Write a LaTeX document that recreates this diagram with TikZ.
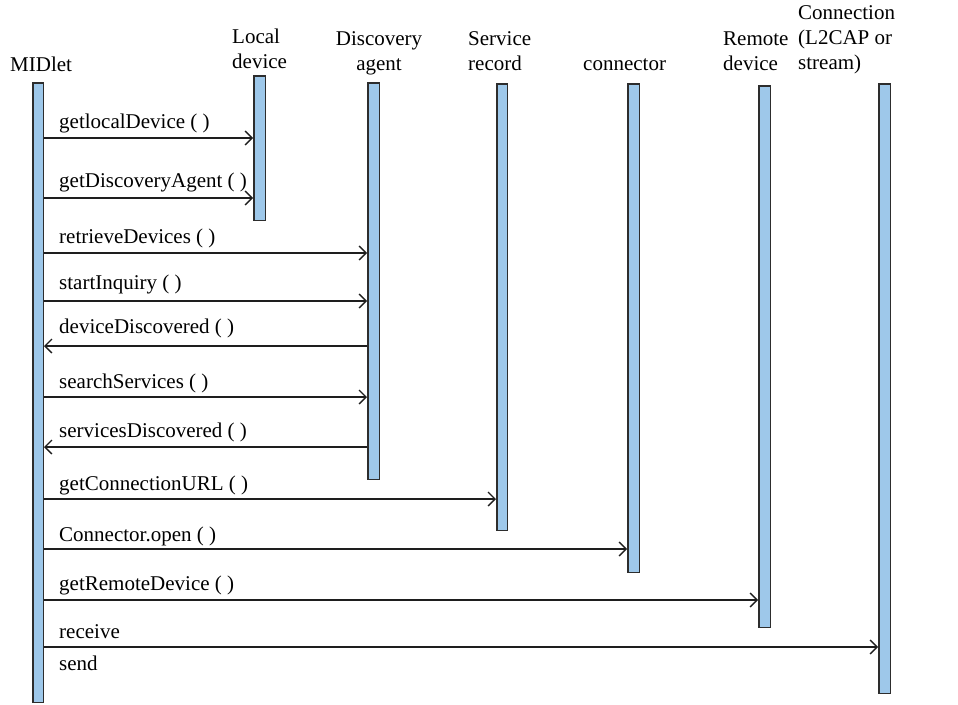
\documentclass[tikz,border=0pt]{standalone}
\usepackage{fontspec}
\setmainfont{Liberation Serif}
\usetikzlibrary{arrows.meta}
\definecolor{barfill}{RGB}{158,200,234}
\definecolor{barline}{RGB}{45,45,45}
\definecolor{msgline}{RGB}{30,30,30}
\begin{document}
\begin{tikzpicture}[x=1pt,y=-1pt,
  bar/.style={draw=barline, fill=barfill, line width=1.5pt, inner sep=0pt, rectangle},
  msg/.style={draw=msgline, line width=1.3pt, -{Straight Barb[length=7pt,width=14pt,line width=1.3pt]}},
  lbl/.style={anchor=base west, inner sep=0pt, font=\fontsize{21}{25}\selectfont},
  head/.style={inner sep=0pt, font=\fontsize{21}{25}\selectfont}]
\useasboundingbox (0,0) rectangle (958,704);

% lifelines (activation bars)
\node[bar, minimum width=10.5pt, minimum height=619.5pt] (midlet) at (38,392.5) {};
\node[bar, minimum width=11.5pt, minimum height=144.5pt] (local) at (259.5,148) {};
\node[bar, minimum width=11.5pt, minimum height=396.5pt] (disc) at (373.5,281) {};
\node[bar, minimum width=10.5pt, minimum height=446.5pt] (serv) at (502,307) {};
\node[bar, minimum width=11.5pt, minimum height=488.5pt] (conn) at (633.5,328) {};
\node[bar, minimum width=11.5pt, minimum height=541.5pt] (remote) at (764.5,356.5) {};
\node[bar, minimum width=11.5pt, minimum height=609.5pt] (cnx) at (884.5,388.5) {};

% headers (base anchor = baseline of the last line)
\node[head, anchor=base west] (hmid) at (10,71) {MIDlet};
\node[head, anchor=base west, align=left] (hloc) at (232,68) {Local\\device};
\node[head, anchor=base, align=center] (hdis) at (379,70) {Discovery\\agent};
\node[head, anchor=base west, align=left] (hser) at (468,70) {Service\\record};
\node[head, anchor=base west] (hcon) at (583,70) {connector};
\node[head, anchor=base west, align=left] (hrem) at (723,70) {Remote\\device};
\node[head, anchor=base west, align=left] (hcnx) at (798,69) {Connection\\(L2CAP or\\stream)};

% message levels
\coordinate (m1) at (0,138);
\coordinate (m2) at (0,198);
\coordinate (m3) at (0,253);
\coordinate (m4) at (0,301);
\coordinate (m5) at (0,346);
\coordinate (m6) at (0,397);
\coordinate (m7) at (0,447);
\coordinate (m8) at (0,499);
\coordinate (m9) at (0,549);
\coordinate (m10) at (0,600);
\coordinate (m11) at (0,647);

\draw[msg] (midlet.east |- m1) -- (local.west |- m1);
\draw[msg] (midlet.east |- m2) -- (local.west |- m2);
\draw[msg] (midlet.east |- m3) -- (disc.west |- m3);
\draw[msg] (midlet.east |- m4) -- (disc.west |- m4);
\draw[msg] (disc.west |- m5) -- (midlet.east |- m5);
\draw[msg] (midlet.east |- m6) -- (disc.west |- m6);
\draw[msg] (disc.west |- m7) -- (midlet.east |- m7);
\draw[msg] (midlet.east |- m8) -- (serv.west |- m8);
\draw[msg] (midlet.east |- m9) -- (conn.west |- m9);
\draw[msg] (midlet.east |- m10) -- (remote.west |- m10);
\draw[msg] (midlet.east |- m11) -- (cnx.west |- m11);

% labels
\node[lbl] (l1) at (59,128) {getlocalDevice ( )};
\node[lbl] (l2) at (59,187) {getDiscoveryAgent ( )};
\node[lbl] (l3) at (59,243) {retrieveDevices ( )};
\node[lbl] (l4) at (59,289) {startInquiry ( )};
\node[lbl] (l5) at (59,333) {deviceDiscovered ( )};
\node[lbl] (l6) at (59,388) {searchServices ( )};
\node[lbl] (l7) at (59,437) {servicesDiscovered ( )};
\node[lbl] (l8) at (59,490) {getConnectionURL ( )};
\node[lbl] (l9) at (59,541) {Connector.open ( )};
\node[lbl] (l10) at (59,590) {getRemoteDevice ( )};
\node[lbl] (l11) at (59,638) {receive};
\node[lbl] (l12) at (59,670) {send};
\end{tikzpicture}
\end{document}
